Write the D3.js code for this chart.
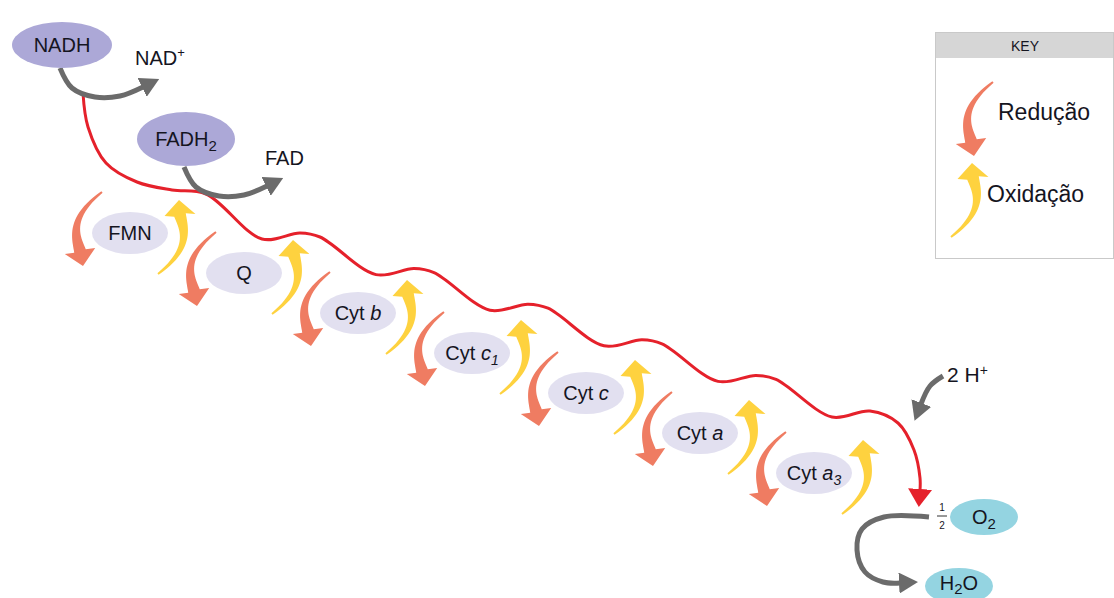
<!DOCTYPE html>
<html>
<head>
<meta charset="utf-8">
<script src="https://cdn.jsdelivr.net/npm/d3@7"></script>
<style>
  body { margin: 0; background: #fff; }
  svg text { font-family: "Liberation Sans", Arial, sans-serif; fill: #15151f; }
</style>
</head>
<body>
<svg id="chart" width="1114" height="598"></svg>
<script>
// carriers of the chain, in order (label split in roman / italic / subscript parts)
var carrierRoman = ["FMN", "Q", "Cyt ", "Cyt ", "Cyt ", "Cyt ", "Cyt "];
var carrierItalic = ["", "", "b", "c", "c", "a", "a"];
var carrierSub = ["", "", "", "1", "", "", "3"];

// electron donors and what they become
var donors = ["NADH", "FADH"];
var donorSub = ["", "2"];
var products = ["NAD", "FAD"];
var productSup = ["+", ""];

// key
var keyTitle = "KEY";
var keyLabels = ["Redução", "Oxidação"];

// final acceptor
var protonText = ["2 H", "+"];
var fraction = ["1", "2"];
var acceptor = ["O", "2"];
var water = ["H", "2", "O"];

var RED = "#ef7c62", YELLOW = "#fed23f", GRAY = "#6b6b6b", LINE = "#e5212b";

var svg = d3.select("#chart");

// positions of the carriers along the chain
var steps = d3.range(carrierRoman.length);
var sx = d3.scaleLinear().domain([0, steps.length - 1]).range([130, 814]);
var sy = d3.scaleLinear().domain([0, steps.length - 1]).range([233, 473]);
// donors
var dxs = d3.scaleLinear().domain([0, 1]).range([62, 186]);
var dys = d3.scaleLinear().domain([0, 1]).range([45, 139]);

// arrow head markers
var defs = svg.append("defs");
function marker(id, color, w, l) {
    defs.append("marker")
        .attr("id", id)
        .attr("markerUnits", "userSpaceOnUse")
        .attr("viewBox", "0 " + (-w / 2) + " " + l + " " + w)
        .attr("refX", 1).attr("refY", 0)
        .attr("markerWidth", l).attr("markerHeight", w)
        .attr("orient", "auto")
        .append("path")
        .attr("d", "M0," + (-w / 2) + "L" + l + ",0L0," + (w / 2) + "Z")
        .attr("fill", color);
}
marker("grayHead", GRAY, 21, 19);
marker("redHead", LINE, 24, 18);

var curve = d3.line().curve(d3.curveCatmullRom.alpha(0.5));

// tapered curved arrow (cubic bezier body + triangular head)
function taperArrow(cx, cy, s, color) {
    // s = +1 reduction arrow (left of carrier), -1 oxidation arrow (right)
    var p0 = [-28 * s, -41 * s], p1 = [-62 * s, -15 * s], p2 = [-54 * s, 4 * s], p3 = [-50 * s, 18 * s];
    var tip = [-47 * s, 33 * s];
    if (s < 0) { tip = [49, -33]; p3 = [50, -18]; }
    var w0 = 2, w1 = 12, hw = 31, n = 24;
    var left = [], right = [];
    for (var i = 0; i <= n; i++) {
        var t = i / n, u = 1 - t;
        var x = u*u*u*p0[0] + 3*u*u*t*p1[0] + 3*u*t*t*p2[0] + t*t*t*p3[0];
        var y = u*u*u*p0[1] + 3*u*u*t*p1[1] + 3*u*t*t*p2[1] + t*t*t*p3[1];
        var tx = 3*u*u*(p1[0]-p0[0]) + 6*u*t*(p2[0]-p1[0]) + 3*t*t*(p3[0]-p2[0]);
        var ty = 3*u*u*(p1[1]-p0[1]) + 6*u*t*(p2[1]-p1[1]) + 3*t*t*(p3[1]-p2[1]);
        var len = Math.sqrt(tx*tx + ty*ty) || 1;
        var nx = -ty / len, ny = tx / len;
        var w = (w0 + (w1 - w0) * t) / 2;
        left.push([cx + x + nx * w, cy + y + ny * w]);
        right.push([cx + x - nx * w, cy + y - ny * w]);
    }
    var ddx = tip[0] - p3[0], ddy = tip[1] - p3[1];
    var dl = Math.sqrt(ddx*ddx + ddy*ddy);
    var hx = -ddy / dl, hy = ddx / dl;
    var poly = left.concat([
        [cx + p3[0] + hx * hw / 2, cy + p3[1] + hy * hw / 2],
        [cx + tip[0], cy + tip[1]],
        [cx + p3[0] - hx * hw / 2, cy + p3[1] - hy * hw / 2]
    ]).concat(right.reverse());
    svg.append("path")
        .attr("d", d3.line()(poly) + "Z")
        .attr("fill", color);
}

// ---- red electron path ----
// level of the line just after the drop at carrier i
var P = function(i) { return i === 0 ? sy(0) - 41 : sy(i) - 38 - 4.4 * (i - 1); };
var wave = [
    [dxs(0) + 21, dys(0) + 48],
    [dxs(0) + 26, dys(0) + 82],
    [dxs(0) + 44, dys(0) + 118],
    [dxs(0) + 75, dys(0) + 137],
    [dxs(0) + 110, dys(0) + 145]
];
steps.slice(1).forEach(function(i) {
    wave.push([sx(i) - 38, P(i - 1) + 2]);
    wave.push([sx(i) + 18, P(i) + 4]);
    wave.push([sx(i) + 56, P(i) - 2]);
});
var last = steps.length - 1;
wave.push([sx(last) + 84, P(last) + 10]);
wave.push([sx(last) + 100, P(last) + 37]);
wave.push([sx(last) + 106, P(last) + 65]);
wave.push([sx(last) + 106, P(last) + 77]);

svg.append("path")
    .attr("d", curve(wave))
    .attr("fill", "none")
    .attr("stroke", LINE)
    .attr("stroke-width", 3)
    .attr("marker-end", "url(#redHead)");

// ---- donor arrows ----
var donorArrow = [[-2, 23], [10, 43], [33, 52], [58, 51], [81, 42]];
donors.forEach(function(d, i) {
    var ox = dxs(i), oy = dys(i) + (i === 1 ? 5 : 0);
    svg.append("path")
        .attr("d", curve(donorArrow.map(function(p) { return [ox + p[0], oy + p[1]]; })))
        .attr("fill", "none")
        .attr("stroke", GRAY)
        .attr("stroke-width", 5)
        .attr("marker-end", "url(#grayHead)");
});

// donor ellipses + labels
donors.forEach(function(d, i) {
    var rx = i === 0 ? 50 : 49, ry = i === 0 ? 23 : 27;
    svg.append("ellipse")
        .attr("cx", dxs(i)).attr("cy", dys(i))
        .attr("rx", rx).attr("ry", ry)
        .attr("fill", "#aca8d7");
    var t = svg.append("text")
        .attr("x", dxs(i)).attr("y", dys(i) + 7)
        .attr("text-anchor", "middle")
        .attr("font-size", 20);
    t.append("tspan").text(d);
    if (donorSub[i]) t.append("tspan").attr("font-size", 15).attr("dy", 5).text(donorSub[i]);
});

// products
var productPos = [[135, 65], [265, 165]];
products.forEach(function(p, i) {
    var t = svg.append("text")
        .attr("x", productPos[i][0]).attr("y", productPos[i][1])
        .attr("font-size", 20);
    t.append("tspan").text(p);
    if (productSup[i]) t.append("tspan").attr("font-size", 13).attr("dy", -8).text(productSup[i]);
});

// ---- carriers ----
steps.forEach(function(i) {
    taperArrow(sx(i), sy(i), 1, RED);
    taperArrow(sx(i), sy(i), -1, YELLOW);
});
steps.forEach(function(i) {
    svg.append("ellipse")
        .attr("cx", sx(i)).attr("cy", sy(i))
        .attr("rx", 38).attr("ry", 21)
        .attr("fill", "#e2e0f0");
    var t = svg.append("text")
        .attr("x", sx(i)).attr("y", sy(i) + 7)
        .attr("text-anchor", "middle")
        .attr("font-size", 20);
    t.append("tspan").text(carrierRoman[i]);
    if (carrierItalic[i]) t.append("tspan").attr("font-style", "italic").text(carrierItalic[i]);
    if (carrierSub[i]) t.append("tspan").attr("font-style", "italic").attr("font-size", 14).attr("dy", 5).text(carrierSub[i]);
});

// ---- final acceptor ----
var o2x = 984, o2y = 517;
svg.append("path")
    .attr("d", curve([[o2x - 55, o2y], [o2x - 100, o2y], [o2x - 122, o2y + 12], [o2x - 127, o2y + 33], [o2x - 119, o2y + 55], [o2x - 101, o2y + 65], [o2x - 84, o2y + 66]]))
    .attr("fill", "none")
    .attr("stroke", GRAY)
    .attr("stroke-width", 5)
    .attr("marker-end", "url(#grayHead)");

svg.append("path")
    .attr("d", curve([[o2x - 41, o2y - 141], [o2x - 54, o2y - 131], [o2x - 63, o2y - 113]]))
    .attr("fill", "none")
    .attr("stroke", GRAY)
    .attr("stroke-width", 5)
    .attr("marker-end", "url(#grayHead)");

var ht = svg.append("text").attr("x", o2x - 37).attr("y", o2y - 135).attr("font-size", 21);
ht.append("tspan").text(protonText[0]);
ht.append("tspan").attr("font-size", 14).attr("dy", -7).text(protonText[1]);

// 1/2
svg.append("text").attr("x", o2x - 42).attr("y", o2y - 6).attr("text-anchor", "middle").attr("font-size", 10).text(fraction[0]);
svg.append("line").attr("x1", o2x - 47).attr("x2", o2x - 37).attr("y1", o2y - 1).attr("y2", o2y - 1).attr("stroke", "#333").attr("stroke-width", 1);
svg.append("text").attr("x", o2x - 42).attr("y", o2y + 12).attr("text-anchor", "middle").attr("font-size", 10).text(fraction[1]);

svg.append("ellipse").attr("cx", o2x).attr("cy", o2y).attr("rx", 34).attr("ry", 18).attr("fill", "#94d4e1");
var ot = svg.append("text").attr("x", o2x).attr("y", o2y + 7).attr("text-anchor", "middle").attr("font-size", 20);
ot.append("tspan").text(acceptor[0]);
ot.append("tspan").attr("font-size", 15).attr("dy", 5).text(acceptor[1]);

svg.append("ellipse").attr("cx", o2x - 25).attr("cy", o2y + 69).attr("rx", 34).attr("ry", 18).attr("fill", "#94d4e1");
var wt = svg.append("text").attr("x", o2x - 25).attr("y", o2y + 73).attr("text-anchor", "middle").attr("font-size", 20);
wt.append("tspan").text(water[0]);
wt.append("tspan").attr("font-size", 15).attr("dy", 4).text(water[1]);
wt.append("tspan").attr("dy", -4).text(water[2]);

// ---- key ----
var key = svg.append("g").attr("transform", "translate(935,32)");
key.append("rect").attr("x", 0.5).attr("y", 0.5).attr("width", 178).attr("height", 226)
    .attr("fill", "#fff").attr("stroke", "#c9c9c9");
key.append("rect").attr("x", 1).attr("y", 1).attr("width", 177).attr("height", 25).attr("fill", "#d6d6d6");
key.append("text").attr("x", 90).attr("y", 19).attr("text-anchor", "middle").attr("font-size", 14).text(keyTitle);

taperArrow(1021, 123, 1, RED);
taperArrow(923, 196, -1, YELLOW);
svg.append("text").attr("x", 998).attr("y", 120).attr("font-size", 23).text(keyLabels[0]);
svg.append("text").attr("x", 987).attr("y", 202).attr("font-size", 23).text(keyLabels[1]);
</script>
</body>
</html>
